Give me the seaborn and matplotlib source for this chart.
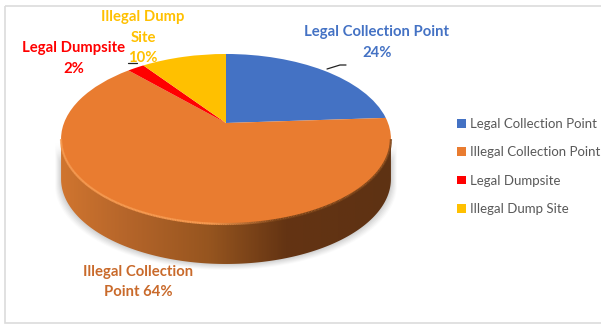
import numpy as np
import matplotlib
matplotlib.use("Agg")
import matplotlib.pyplot as plt
import matplotlib.transforms as mtransforms
from matplotlib.colors import LinearSegmentedColormap
from matplotlib.collections import LineCollection
from matplotlib.patches import Polygon, Rectangle
import seaborn as sns

# ---- data -------------------------------------------------------------
categories = ["Legal Collection Point", "Illegal Collection Point",
              "Legal Dumpsite", "Illegal Dump Site"]
shares = [24, 64, 2, 10]
colors = ["#4472C4", "#E97C30", "#FF0000", "#FFC000"]
label_colors = ["#4472C4", "#C96A2B", "#FF0000", "#FFC000"]

sns.set_theme(style="white")
plt.rcParams["font.family"] = ["Lato", "DejaVu Sans"]

fig = plt.figure(figsize=(6.01, 3.24), dpi=100, facecolor="white")
ax = fig.add_axes([0, 0, 1, 1])

APEX = (226.0, 123.0)
A, B, P = 162.0, 82.0, 0.188
DEPTH = 40.0


class Persp(mtransforms.Transform):
    """Tilted-disc projection of the unit pie into figure pixels."""
    input_dims = output_dims = 2
    is_separable = False

    def transform_non_affine(self, values):
        v = np.asarray(values, float)
        d = 1 + P * v[:, 1]
        return np.column_stack([APEX[0] + A * v[:, 0] / d, APEX[1] - B * v[:, 1] / d])


persp = Persp()
th = np.linspace(0, 2 * np.pi, 721)
circle = persp.transform(np.column_stack([np.cos(th), np.sin(th)]))
i_l, i_r = circle[:, 0].argmin(), circle[:, 0].argmax()
lower = circle[i_l:i_r + 1]                       # left extreme -> bottom -> right extreme
wall = np.vstack([lower, (lower + [0, DEPTH])[::-1]])

# soft ground shadow under the disc
for grow, alpha in zip([6, 5, 4, 3, 2, 1], [.035, .05, .06, .07, .08, .09]):
    shadow = np.vstack([lower + [0, 2], (lower + [0, DEPTH + grow])[::-1]])
    shadow[:, 0] = 226 + (shadow[:, 0] - 226) * (1 + grow / 165)
    ax.add_patch(Polygon(shadow, closed=True, fc="#808080", ec="none", alpha=alpha, zorder=1))

# cylinder wall with left-to-right shading
wall_cmap = LinearSegmentedColormap.from_list(
    "wall", [(0, "#D0752F"), (.2, "#B5652A"), (.45, "#96551F"), (.68, "#643413"), (1, "#5E3213")])
grad = np.linspace(0, 1, 340).reshape(1, -1)
im = ax.imshow(grad, cmap=wall_cmap, extent=(60, 392, 300, 100), aspect="auto", zorder=2)
im.set_clip_path(Polygon(wall, closed=True, transform=ax.transData))

# top face
wedges, _ = ax.pie(shares, colors=colors, startangle=90, counterclock=False, frame=True,
                   wedgeprops=dict(linewidth=0))
for w in wedges:
    w.set_transform(persp + ax.transData)
    w.set_zorder(3)
    w.set_clip_on(False)

# rim highlight, fading from light on the left into shade on the right
xs = lower[:, 0]
segs = np.stack([lower[:-1], lower[1:]], axis=1)
t = (xs[:-1] - xs.min()) / (xs.max() - xs.min())
light = np.array(matplotlib.colors.to_rgb("#F6994F"))
dark = np.array(matplotlib.colors.to_rgb("#7A4318"))
mix = np.clip((t - .45) / .2, 0, 1)[:, None]
ax.add_collection(LineCollection(segs, colors=light * (1 - mix) + dark * mix, linewidths=1.6, zorder=4))

ax.set_aspect("auto")
ax.set_xlim(0, 601)
ax.set_ylim(324, 0)
ax.set_xticks([])
ax.set_yticks([])
for s in ax.spines.values():
    s.set_visible(False)

# chart frame
ax.add_patch(Rectangle((5, 6), 620, 317, fc="none", ec="#DCDCDC", lw=1.2, zorder=0))

# data labels
kw = dict(ha="center", va="center", fontweight="bold", fontsize=10.7, linespacing=1.55, zorder=6)
ax.text(377, 42.5, f"Legal Collection Point\n{shares[0]}%", color=label_colors[0], **kw)
ax.text(138, 282, f"Illegal Collection\nPoint {shares[1]}%", color=label_colors[1], **kw)
ax.text(74, 58.5, f"Legal Dumpsite\n{shares[2]}%", color=label_colors[2], **kw)
ax.text(143, 17.5, "Illegal Dump", color=label_colors[3], **kw)
ax.text(143, 48, f"Site\n{shares[3]}%", color=label_colors[3], **kw)

# leader lines
ax.plot([327, 340, 346], [69, 65, 65], color="#222222", lw=.9, zorder=6)
ax.plot([128, 137], [63, 63], color="#222222", lw=.9, zorder=6)

# legend
leg = ax.legend(wedges, categories, loc="upper left", bbox_to_anchor=(457, 118),
                bbox_transform=ax.transData, frameon=False, fontsize=9.5,
                labelcolor="#595959", handlelength=.65, handleheight=.65,
                handletextpad=.3, labelspacing=1.24, borderpad=0, borderaxespad=0)

fig.savefig("out.png", dpi=100)
